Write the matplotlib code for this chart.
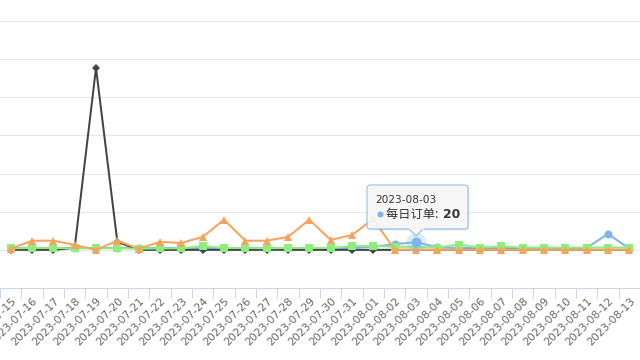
import matplotlib.pyplot as plt
from matplotlib.patches import FancyBboxPatch, Polygon
from matplotlib.transforms import ScaledTranslation

plt.rcParams['font.family'] = ['DejaVu Sans', 'Noto Sans CJK SC']

# categories (one per day)
dates = ['2023-07-15', '2023-07-16', '2023-07-17', '2023-07-18', '2023-07-19',
         '2023-07-20', '2023-07-21', '2023-07-22', '2023-07-23', '2023-07-24',
         '2023-07-25', '2023-07-26', '2023-07-27', '2023-07-28', '2023-07-29',
         '2023-07-30', '2023-07-31', '2023-08-01', '2023-08-02', '2023-08-03',
         '2023-08-04', '2023-08-05', '2023-08-06', '2023-08-07', '2023-08-08',
         '2023-08-09', '2023-08-10', '2023-08-11', '2023-08-12', '2023-08-13']

# series values
daily_orders = [5, 5, 5, 5, 5, 5, 5, 5, 5, 5, 5, 5, 5, 5, 5,
                5, 5, 8, 15, 20, 7, 5, 5, 5, 5, 5, 5, 5, 42, 3]
series_black = [0, 0, 0, 5, 477, 21, 0, 0, 0, 0, 0, 0, 0, 0, 0,
                0, 0, 0, 0, 0, 0, 0, 0, 0, 0, 0, 0, 0, 0, 0]
series_green = [4, 5, 5, 4, 4, 4, 3, 4, 4, 10, 5, 5, 4, 5, 5,
                5, 10, 10, 8, 8, 6, 14, 6, 9, 6, 6, 6, 6, 6, 6]
series_orange = [3, 24, 24, 13, 0, 24, 3, 21, 18, 34, 79, 24, 24, 34, 79,
                 26, 39, 81, 0, 0, 0, 0, 0, 0, 0, 0, 0, 0, 0, 0]

hover_idx = 19
grid_vals = [0, 100, 200, 300, 400, 500, 600]

px = 0.72  # points per pixel at dpi 100

fig = plt.figure(figsize=(6.4, 3.6), dpi=100)
ax = fig.add_axes([0, 0.2, 1, 0.8])
x = list(range(len(dates)))

ax.set_xlim(-0.325, 29.41)
ax.set_ylim(-100, 655)

for g in grid_vals:
    ax.axhline(g, color='#e6e6e6', lw=1 * px, zorder=0)

styles = [
    (daily_orders, '#7cb5ec', 'o', 8),
    (series_black, '#434348', 'D', 6),
    (series_green, '#90ed7d', 's', 7.5),
    (series_orange, '#f7a35c', '^', 8.5),
]
for z, (vals, col, mk, ms) in enumerate(styles):
    ax.plot(x, vals, color=col, lw=2 * px, marker=mk, markersize=ms * px,
            markeredgewidth=0, zorder=2 + z, clip_on=False)

# hover halo on the tooltip point
ax.plot([hover_idx], [daily_orders[hover_idx]], 'o', color='#7cb5ec',
        alpha=0.25, markersize=20 * px, markeredgewidth=0, zorder=7)
ax.plot([hover_idx], [daily_orders[hover_idx]], 'o', color='#7cb5ec',
        markersize=10 * px, markeredgewidth=0, zorder=7)

for s in ['top', 'left', 'right']:
    ax.spines[s].set_visible(False)
ax.spines['bottom'].set_color('#ccd6eb')
ax.spines['bottom'].set_linewidth(1 * px)
ax.set_yticks([])

ax.set_xticks(x)
ax.set_xticklabels(dates, rotation=45, ha='right', va='center',
                   rotation_mode='anchor', fontsize=7.8, color='#666666')
ax.set_xticks([i + 0.5 for i in range(-1, len(dates))], minor=True)
ax.tick_params(axis='x', which='major', length=0, pad=8)
ax.tick_params(axis='x', which='minor', length=10 * px, width=1 * px,
               color='#ccd6eb')
for lab in ax.get_xticklabels():
    lab.set_transform(lab.get_transform() + ScaledTranslation(4 / 100, 0, fig.dpi_scale_trans))

# tooltip drawn in pixel space
ov = fig.add_axes([0, 0, 1, 1])
ov.set_xlim(0, 640)
ov.set_ylim(360, 0)
ov.axis('off')
ov.patch.set_alpha(0)

bx, by, bw, bh = 367, 185, 101, 44
shadow = FancyBboxPatch((bx + 1.5, by + 1.5), bw, bh,
                        boxstyle='round,pad=0,rounding_size=3',
                        fc='black', ec='none', alpha=0.08, zorder=1)
ov.add_patch(shadow)
box = FancyBboxPatch((bx, by), bw, bh, boxstyle='round,pad=0,rounding_size=3',
                     fc='#f8f8f8', ec='#7cb5ec', lw=1 * px, alpha=0.92, zorder=2)
ov.add_patch(box)
tip = Polygon([(409, by + bh), (416, by + bh + 7), (423, by + bh)],
              closed=False, fc='#f8f8f8', ec='#7cb5ec', lw=1 * px, zorder=2)
ov.add_patch(tip)
ov.plot([409.5, 422.5], [by + bh, by + bh], color='#f8f8f8', lw=1.5 * px, zorder=3)

ov.text(375, 200, '2023-08-03', fontsize=7.6, color='#333333', va='center', zorder=4)
ov.plot([379.5], [214], 'o', color='#7cb5ec', markersize=6 * px,
        markeredgewidth=0, zorder=4)
ov.text(386, 214, '每日订单: ', fontsize=8.8, color='#333333', va='center',
        family=['Noto Sans CJK SC', 'DejaVu Sans'], zorder=4)
ov.text(443, 214, '20', fontsize=8.8, color='#333333', va='center',
        fontweight='bold', zorder=4)

fig.savefig('out.png', dpi=100)
